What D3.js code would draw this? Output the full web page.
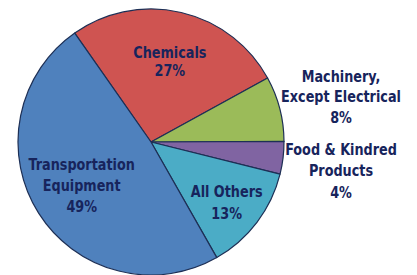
<!DOCTYPE html>
<html>
<head>
<meta charset="utf-8">
<script src="https://cdn.jsdelivr.net/npm/d3@7"></script>
<style>
  html, body { margin: 0; padding: 0; background: #fff; }
  svg text {
    font-family: "Liberation Sans Narrow", "DejaVu Sans Condensed", "Liberation Sans", sans-serif;
    font-weight: bold;
    fill: #17245c;
  }
</style>
</head>
<body>
<div id="chart"></div>
<script>
// slices, clockwise from the top-left edge of Chemicals
var names = ["Chemicals", "Machinery, Except Electrical", "Food & Kindred Products", "All Others", "Transportation Equipment"];
var shares = [27, 8, 4, 13, 49];
var labelLines = [
    ["Chemicals"],
    ["Machinery,", "Except Electrical"],
    ["Food & Kindred", "Products"],
    ["All Others"],
    ["Transportation", "Equipment"]
];
var colors = ["#cf5451", "#9bbb59", "#8064a2", "#4bacc6", "#4f81bd"];

(function(){
    var width = 417, height = 275;
    var cx = 151, cy = 142, R = 133;
    var deg = Math.PI / 180;

    // inside labels sit on their own radius; outside ones go in a column on the right
    var labelR = [83, 200, 200, 100, 82];
    var outside = [false, true, true, false, false];
    var lineH = [18, 20.5, 21.5, 22, 21];

    var svg = d3.select("#chart")
        .append("svg")
        .attr("width", width)
        .attr("height", height);

    var pie = d3.pie()
        .sort(null)
        .startAngle(-35 * deg)
        .endAngle(325 * deg)
        .value(function(d) { return d; });

    var arcs = pie(shares);

    var arc = d3.arc().innerRadius(0).outerRadius(R);

    var g = svg.append("g").attr("transform", "translate(" + cx + "," + cy + ")");

    g.selectAll("path").data(arcs).enter()
        .append("path")
        .attr("d", arc)
        .attr("fill", function(d, i) { return colors[i]; })
        .attr("stroke", "#1d2f55")
        .attr("stroke-width", 1.2)
        .attr("stroke-linejoin", "round");

    var labels = g.selectAll("g.lbl").data(arcs).enter()
        .append("g")
        .attr("class", "lbl")
        .attr("transform", function(d, i) {
            var a = (d.startAngle + d.endAngle) / 2;
            var r = labelR[i];
            var x = outside[i] ? 190 : Math.sin(a) * r - (i == 3 ? 4 : 0);
            var y = -Math.cos(a) * r + (outside[i] ? 4.5 : 0);
            // narrow the glyphs a bit, the original face is condensed
            return "translate(" + x + "," + y + ") scale(0.89,1)";
        });

    labels.each(function(d, i) {
        var lines = labelLines[i].concat([d3.format(".0f")(shares[i]) + "%"]);
        var top = -(lines.length - 1) * lineH[i] / 2;
        d3.select(this).selectAll("text").data(lines).enter()
            .append("text")
            .attr("text-anchor", "middle")
            .attr("dy", "0.35em")
            .attr("y", function(t, j) { return top + j * lineH[i]; })
            .style("font-size", "16px")
            .text(function(t) { return t; });
    });
})();
</script>
</body>
</html>
